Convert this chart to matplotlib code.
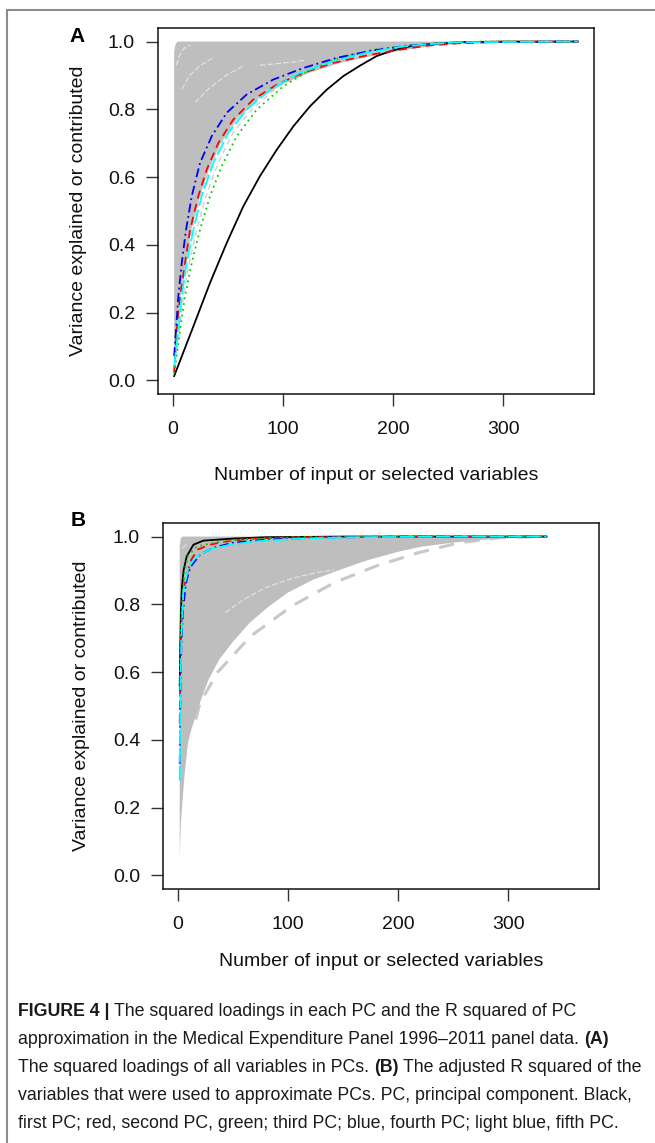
import matplotlib
matplotlib.use("Agg")
import matplotlib.pyplot as plt
from matplotlib.lines import Line2D
import numpy as np

plt.rcParams['font.family'] = ['Liberation Sans', 'DejaVu Sans']

# ---- panel A : squared loadings ----
a_gray_up_x = [1, 1, 2, 4, 300]
a_gray_up_y = [0.0, 0.97, 0.99, 1.0, 1.0]
a_gray_lo_x = [1, 3.5, 6.8, 11.5, 16.5, 24.5, 32.5, 43.5, 58, 77, 99, 124, 152, 183, 212, 240, 270, 300]
a_gray_lo_y = [0.0, 0.15, 0.249, 0.347, 0.445, 0.544, 0.622, 0.701, 0.770, 0.829, 0.873, 0.908, 0.937, 0.959, 0.976, 0.988, 0.996, 1.0]

# faint grey curves below the grey mass
a_faint_y = [0.03, 0.15, 0.249, 0.347, 0.445, 0.544, 0.642, 0.731, 0.799, 0.858, 0.908, 0.942, 0.967, 0.984, 0.995]
a_faint1_x = [1, 4, 7.2, 11.7, 17, 24.5, 35, 48.5, 65, 87, 117, 148, 181, 211, 248]
a_faint2_x = [1, 5.6, 9.4, 14.7, 21.5, 30, 41, 54.5, 71.5, 92, 118, 147, 178, 209, 248]
a_faint3_x = [1, 3.7, 6.8, 11.3, 16.2, 24, 34, 48, 64, 86, 117, 149, 183, 213, 249]

# white streaks inside the grey mass
a_white = [
    ([3, 6, 10, 16], [0.93, 0.96, 0.98, 0.99]),
    ([8, 15, 25, 38], [0.86, 0.90, 0.93, 0.955]),
    ([20, 32, 48, 65], [0.82, 0.86, 0.90, 0.93]),
    ([79, 95, 110, 120], [0.93, 0.935, 0.94, 0.945]),
]

a_pc1_x = [1, 18.5, 33.6, 48.8, 63.9, 79, 94.3, 109.4, 124.5, 139.7, 154.8, 170, 185, 200, 215.5, 230.6, 260, 300, 368]
a_pc1_y = [0.013, 0.16, 0.288, 0.406, 0.514, 0.603, 0.681, 0.750, 0.809, 0.858, 0.898, 0.929, 0.957, 0.974, 0.986, 0.992, 0.998, 1.0, 1.0]
a_pc2_x = [1, 3.3, 6.4, 10.9, 15.5, 23, 30.6, 41.2, 54.8, 73, 94.3, 118.5, 145.7, 176, 206, 230.6, 260, 300, 368]
a_pc2_y = [0.023, 0.15, 0.249, 0.347, 0.445, 0.544, 0.622, 0.701, 0.770, 0.829, 0.873, 0.908, 0.937, 0.959, 0.976, 0.988, 0.995, 0.999, 1.0]
a_pc3_x = [1, 6.4, 10.9, 17, 24.5, 33.6, 44.2, 57.9, 76, 100.3, 124.5, 151.8, 182, 212.5, 245, 280, 368]
a_pc3_y = [0.02, 0.15, 0.249, 0.347, 0.445, 0.544, 0.632, 0.721, 0.799, 0.868, 0.917, 0.952, 0.976, 0.988, 0.996, 1.0, 1.0]
a_pc4_x = [1, 2.7, 4.8, 7.9, 11.8, 17, 24.5, 35.2, 48.8, 67, 91.2, 118.5, 148.8, 182, 215.5, 239.7, 270, 368]
a_pc4_y = [0.072, 0.15, 0.249, 0.347, 0.445, 0.544, 0.642, 0.721, 0.790, 0.844, 0.888, 0.922, 0.952, 0.974, 0.988, 0.994, 0.998, 1.0]
a_pc5_x = [1, 4.8, 7.9, 12.4, 18.5, 26, 36.7, 50.3, 67, 88.2, 115.5, 145.7, 176, 206, 230.6, 260, 368]
a_pc5_y = [0.042, 0.15, 0.249, 0.347, 0.445, 0.544, 0.642, 0.731, 0.799, 0.858, 0.908, 0.942, 0.967, 0.984, 0.992, 0.998, 1.0]

# ---- panel B : adjusted R squared ----
b_gray_up_x = [1.5, 1.5, 2.5, 4, 335]
b_gray_up_y = [0.05, 0.97, 0.995, 1.0, 1.0]
b_gray_lo_x = [1.5, 2.5, 4, 6, 9, 12, 16, 21, 28, 38, 50, 65, 81, 100, 123, 150, 172, 200, 221, 250, 275, 310, 335]
b_gray_lo_y = [0.05, 0.15, 0.22, 0.30, 0.39, 0.43, 0.47, 0.52, 0.58, 0.64, 0.69, 0.745, 0.79, 0.835, 0.873, 0.905, 0.93, 0.955, 0.97, 0.982, 0.99, 0.997, 1.0]
b_dash_x = [16, 20, 36, 66, 103, 142, 180, 218, 256, 294, 335]
b_dash_y = [0.46, 0.509, 0.60, 0.706, 0.794, 0.864, 0.913, 0.952, 0.982, 0.997, 1.0]
b_white = [
    ([43, 60, 80, 105, 125, 142], [0.776, 0.815, 0.85, 0.878, 0.893, 0.902]),
    ([4, 6, 8], [0.965, 0.972, 0.978]),
]

b_pc1_x = [1.5, 2, 2.6, 3.5, 5, 7.9, 14, 23, 50, 80, 150, 335]
b_pc1_y = [0.56, 0.68, 0.78, 0.85, 0.90, 0.942, 0.976, 0.988, 0.994, 0.998, 1.0, 1.0]
b_pc2_x = [1.5, 2, 2.8, 4, 6, 9, 12, 18, 29, 41, 65, 110, 200, 335]
b_pc2_y = [0.45, 0.60, 0.72, 0.80, 0.86, 0.90, 0.932, 0.962, 0.976, 0.984, 0.994, 0.998, 1.0, 1.0]
b_pc3_x = [1.5, 2, 2.8, 4, 6, 9.4, 17, 35, 60, 110, 200, 335]
b_pc3_y = [0.55, 0.65, 0.75, 0.83, 0.90, 0.945, 0.971, 0.983, 0.992, 0.998, 1.0, 1.0]
b_pc4_x = [1.5, 2, 3, 4.5, 7, 11, 20, 32, 50, 80, 130, 220, 335]
b_pc4_y = [0.33, 0.50, 0.68, 0.78, 0.86, 0.909, 0.947, 0.967, 0.982, 0.991, 0.997, 1.0, 1.0]
b_pc5_x = [1.5, 2, 3, 4.8, 9.4, 17, 29, 47, 72, 110, 160, 250, 335]
b_pc5_y = [0.28, 0.50, 0.70, 0.84, 0.91, 0.942, 0.962, 0.976, 0.986, 0.994, 0.998, 1.0, 1.0]

x_ticks = [0, 100, 200, 300]
y_ticks = [0.0, 0.2, 0.4, 0.6, 0.8, 1.0]
y_ticklabels = ["0.0", "0.2", "0.4", "0.6", "0.8", "1.0"]
x_label = "Number of input or selected variables"
y_label = "Variance explained or contributed"

caption = [
    [("FIGURE 4 |", True), ("The squared loadings in each PC and the R squared of PC", False)],
    [("approximation in the Medical Expenditure Panel 1996\u20132011 panel data.", False), ("(A)", True)],
    [("The squared loadings of all variables in PCs.", False), ("(B)", True), ("The adjusted R squared of the", False)],
    [("variables that were used to approximate PCs. PC, principal component. Black,", False)],
    [("first PC; red, second PC, green; third PC; blue, fourth PC; light blue, fifth PC.", False)],
]

GRAY = "#bebebe"
pc_styles = [
    dict(color="black", linestyle="-"),
    dict(color="#ff0000", linestyle=(0, (4.5, 3))),
    dict(color="#00cd00", linestyle=(0, (1, 2.2))),
    dict(color="#0000ff", linestyle=(0, (5, 2, 1, 2))),
    dict(color="#00ffff", linestyle=(0, (8, 2))),
]

W, H = 655, 1143
FS = 14
fig = plt.figure(figsize=(W / 100, H / 100), dpi=100)


def draw_panel(rect, up_x, up_y, lo_x, lo_y, pcs, faint=(), whites=(), extra=None):
    ax = fig.add_axes(rect)
    if extra is not None:
        ax.plot(extra[0], extra[1], color="#c8c8c8", lw=2.2, linestyle=(0, (5, 3.5)), zorder=1)
    px = list(up_x) + list(lo_x[::-1])
    py = list(up_y) + list(lo_y[::-1])
    ax.fill(px, py, color=GRAY, lw=0, zorder=2)
    for fx, fy in faint:
        ax.plot(fx, fy, color="#cfcfcf", lw=1.0, linestyle=(0, (4, 3)), zorder=2)
    for wx, wy in whites:
        ax.plot(wx, wy, color="white", lw=0.8, alpha=0.6, linestyle=(0, (5, 2)), zorder=3)
    for (x, y), st in zip(pcs, pc_styles):
        ax.plot(x, y, lw=1.3, zorder=4, **st)
    ax.set_xlim(-13.7, 382.7)
    ax.set_ylim(-0.04, 1.04)
    ax.set_xticks(x_ticks)
    ax.set_xticklabels([str(t) for t in x_ticks])
    ax.set_yticks(y_ticks)
    ax.set_yticklabels(y_ticklabels)
    ax.tick_params(axis="both", direction="out", length=8.5, width=1.0, color="#333333",
                   labelsize=FS, labelcolor="#111111")
    ax.tick_params(axis="x", pad=11)
    ax.tick_params(axis="y", pad=8)
    for s in ax.spines.values():
        s.set_linewidth(1.1)
        s.set_color("#111111")
    return ax


axA = draw_panel([158 / W, 1 - 394 / H, 436 / W, 366 / H],
                 a_gray_up_x, a_gray_up_y, a_gray_lo_x, a_gray_lo_y,
                 [(a_pc1_x, a_pc1_y), (a_pc2_x, a_pc2_y), (a_pc3_x, a_pc3_y), (a_pc4_x, a_pc4_y), (a_pc5_x, a_pc5_y)],
                 faint=[(a_faint1_x, a_faint_y), (a_faint2_x, a_faint_y), (a_faint3_x, a_faint_y)],
                 whites=a_white)
axB = draw_panel([163 / W, 1 - 889 / H, 436 / W, 366 / H],
                 b_gray_up_x, b_gray_up_y, b_gray_lo_x, b_gray_lo_y,
                 [(b_pc1_x, b_pc1_y), (b_pc2_x, b_pc2_y), (b_pc3_x, b_pc3_y), (b_pc4_x, b_pc4_y), (b_pc5_x, b_pc5_y)],
                 whites=b_white, extra=(b_dash_x, b_dash_y))

# axis titles
fig.text(376 / W, 1 - 476 / H, x_label, ha="center", va="center", fontsize=FS, color="#111111")
fig.text(381 / W, 1 - 962 / H, x_label, ha="center", va="center", fontsize=FS, color="#111111")
fig.text(79 / W, 1 - 211 / H, y_label, ha="center", va="center", rotation=90, fontsize=FS, color="#111111")
fig.text(82 / W, 1 - 706 / H, y_label, ha="center", va="center", rotation=90, fontsize=FS, color="#111111")
fig.text(77 / W, 1 - 37 / H, "A", ha="center", va="center", fontsize=15, fontweight="bold")
fig.text(78 / W, 1 - 520 / H, "B", ha="center", va="center", fontsize=15, fontweight="bold")

# grey frame (top and left)
fig.add_artist(Line2D([7 / W, 1], [1 - 10 / H, 1 - 10 / H], color="#8c8c8c", lw=1.5))
fig.add_artist(Line2D([7 / W, 7 / W], [1 - 10 / H, 0], color="#8c8c8c", lw=1.5))

# caption with mixed bold / regular pieces
renderer = fig.canvas.get_renderer()
cap_size = 12.8
t1 = fig.text(0, 0, "a a", fontsize=cap_size)
t2 = fig.text(0, 0, "aa", fontsize=cap_size)
space = t1.get_window_extent(renderer).width - t2.get_window_extent(renderer).width
t1.remove()
t2.remove()
y0 = 1012
for i, line in enumerate(caption):
    x = 18
    y = y0 + i * 28
    for j, (txt, bold) in enumerate(line):
        t = fig.text(x / W, 1 - y / H, txt, fontsize=cap_size, ha="left", va="center",
                     fontweight="bold" if bold else "normal", color="#1a1a1a")
        x += t.get_window_extent(renderer).width + space

fig.savefig("out.png", dpi=100)
